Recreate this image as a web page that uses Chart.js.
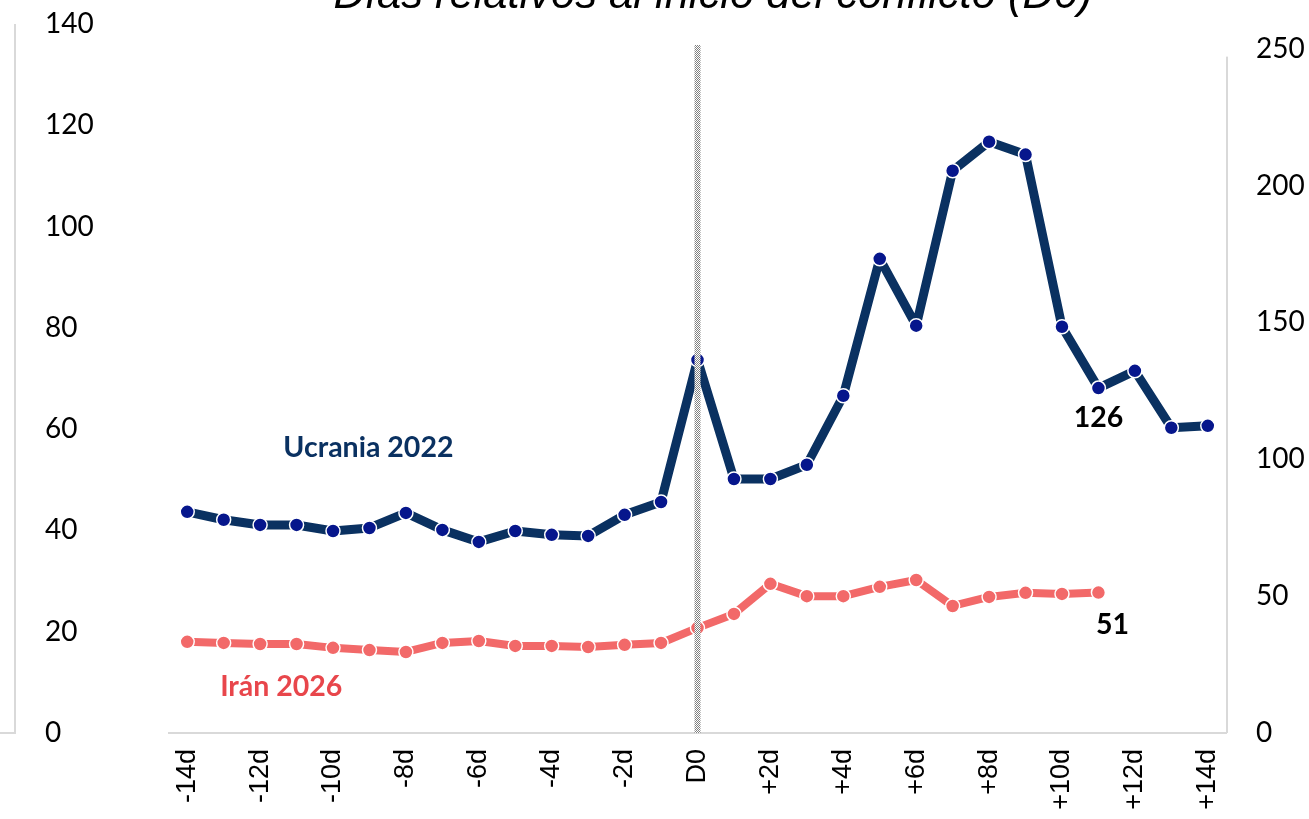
<!DOCTYPE html>
<html>
<head>
<meta charset="utf-8">
<script src="https://cdn.jsdelivr.net/npm/chart.js@4"></script>
<style>
  html, body { margin: 0; padding: 0; background: #fff; }
  #wrap { width: 1309px; height: 819px; }
</style>
</head>
<body>
<div id="wrap"><canvas id="conflict-chart" width="1309" height="819"></canvas></div>
<script>
// dias relativos al inicio del conflicto
const days = [
    "-14d", "-13d", "-12d", "-11d", "-10d", "-9d", "-8d", "-7d", "-6d", "-5d",
    "-4d", "-3d", "-2d", "-1d", "D0", "+1d", "+2d", "+3d", "+4d", "+5d",
    "+6d", "+7d", "+8d", "+9d", "+10d", "+11d", "+12d", "+13d", "+14d"
];
const ucrania2022 = [
    80.8, 77.9, 76.0, 76.0, 73.8, 74.9, 80.4, 74.2, 69.8, 73.8,
    72.4, 72.0, 79.7, 84.4, 136.3, 92.8, 92.8, 98.0, 123.2, 173.2,
    148.8, 205.4, 216.0, 211.3, 148.4, 126.0, 132.3, 111.5, 112.2
];
const iran2026 = [
    33.3, 32.9, 32.5, 32.5, 31.1, 30.3, 29.6, 32.9, 33.6, 31.8,
    31.8, 31.4, 32.2, 32.9, 38.4, 43.5, 54.5, 50.0, 50.0, 53.4,
    55.9, 46.4, 49.7, 51.2, 50.8, 51.3, null, null, null
];
const leftTicks = [0, 20, 40, 60, 80, 100, 120, 140];
const rightTicks = [0, 50, 100, 150, 200, 250];

const NAVY = "#0a3161";
const NAVY_DOT = "#06168c";
const SALMON = "#f26969";

// checker pattern for the D0 marker line
function checkerPattern(ctx) {
    const c = document.createElement("canvas");
    c.width = 2; c.height = 2;
    const p = c.getContext("2d");
    p.fillStyle = "#ffffff"; p.fillRect(0, 0, 2, 2);
    p.fillStyle = "#808080"; p.fillRect(0, 0, 1, 1); p.fillRect(1, 1, 1, 1);
    return ctx.createPattern(c, "repeat");
}

const extras = {
    id: "extras",
    afterDatasetsDraw(chart) {
        const { ctx, chartArea, scales } = chart;
        const x = scales.x, y1 = scales.y1;
        ctx.save();

        // D0 vertical line
        const xd0 = x.getPixelForValue(days.indexOf("D0"));
        ctx.fillStyle = checkerPattern(ctx);
        ctx.fillRect(xd0 - 3, 45, 6, chartArea.bottom - 45);

        // right axis line
        const top250 = y1.getPixelForValue(250) + 8;
        ctx.fillStyle = "#d9d9d9";
        ctx.fillRect(chartArea.right, top250, 2, chartArea.bottom - top250);
        // left frame remnant
        ctx.fillRect(14, 24, 2, chartArea.bottom - 24);
        ctx.fillRect(0, chartArea.bottom - 1, 16, 2);

        // title (cut at top)
        ctx.fillStyle = "#000";
        ctx.font = "italic 43.5px 'Liberation Sans', Arial, sans-serif";
        ctx.textAlign = "center";
        ctx.textBaseline = "alphabetic";
        ctx.fillText("Días relativos al inicio del conflicto (D0)", 713, 8);

        // series labels
        ctx.font = "bold 28.5px Lato, 'Open Sans', sans-serif";
        ctx.textBaseline = "middle";
        ctx.fillStyle = NAVY;
        ctx.fillText("Ucrania 2022", x.getPixelForValue(4.97), y1.getPixelForValue(104));
        ctx.fillStyle = "#e8464b";
        ctx.fillText("Irán 2026", x.getPixelForValue(2.58), y1.getPixelForValue(17));

        // end value labels
        ctx.fillStyle = "#000";
        const i11 = days.indexOf("+11d");
        ctx.fillText(String(Math.round(ucrania2022[i11])), x.getPixelForValue(i11), y1.getPixelForValue(ucrania2022[i11]) + 30);
        ctx.fillText(String(Math.round(iran2026[i11])), x.getPixelForValue(i11) + 14, y1.getPixelForValue(iran2026[i11]) + 32);
        ctx.restore();
    }
};

const ctx = document.getElementById("conflict-chart").getContext("2d");
new Chart(ctx, {
    type: "line",
    data: {
        labels: days,
        datasets: [
            {
                label: "Ucrania 2022",
                data: ucrania2022,
                yAxisID: "y1",
                borderColor: NAVY,
                borderWidth: 9,
                borderJoinStyle: "round",
                pointRadius: 7,
                pointBackgroundColor: NAVY_DOT,
                pointBorderColor: "#ffffff",
                pointBorderWidth: 1.5,
                tension: 0
            },
            {
                label: "Irán 2026",
                data: iran2026,
                yAxisID: "y1",
                borderColor: SALMON,
                borderWidth: 8,
                borderJoinStyle: "round",
                pointRadius: 7,
                pointBackgroundColor: SALMON,
                pointBorderColor: "#ffffff",
                pointBorderWidth: 1.5,
                tension: 0
            }
        ]
    },
    options: {
        responsive: false,
        animation: false,
        layout: { padding: { left: 45, top: 24, right: 0, bottom: 0 } },
        plugins: {
            legend: { display: false },
            tooltip: { enabled: false }
        },
        scales: {
            x: {
                offset: true,
                grid: { display: false, drawTicks: false },
                border: { color: "#d9d9d9", width: 2 },
                ticks: {
                    autoSkip: false,
                    minRotation: 90,
                    maxRotation: 90,
                    padding: 16,
                    color: "#000",
                    font: { family: "'Liberation Sans', Arial, sans-serif", size: 27 },
                    callback: (v, i) => (i % 2 === 0 ? days[i] : "")
                },
                afterFit: (s) => { s.height = 86; s.paddingLeft = 0; s.paddingRight = 0; }
            },
            y: {
                position: "left",
                min: 0,
                max: 140,
                grid: { display: false, drawTicks: false },
                border: { display: false },
                afterBuildTicks: (s) => { s.ticks = leftTicks.map(v => ({ value: v })); },
                ticks: {
                    crossAlign: "far",
                    padding: 0,
                    color: "#000",
                    font: { family: "Lato, 'Open Sans', sans-serif", size: 28 }
                },
                afterFit: (s) => { s.width = 124; s.paddingTop = 0; s.paddingBottom = 0; }
            },
            y1: {
                position: "right",
                min: 0,
                max: 259,
                grid: { display: false, drawTicks: false },
                border: { display: false },
                afterBuildTicks: (s) => { s.ticks = rightTicks.map(v => ({ value: v })); },
                ticks: {
                    padding: 30,
                    color: "#000",
                    font: { family: "Lato, 'Open Sans', sans-serif", size: 28 }
                },
                afterFit: (s) => { s.width = 83; s.paddingTop = 0; s.paddingBottom = 0; }
            }
        }
    },
    plugins: [extras]
});
</script>
</body>
</html>
